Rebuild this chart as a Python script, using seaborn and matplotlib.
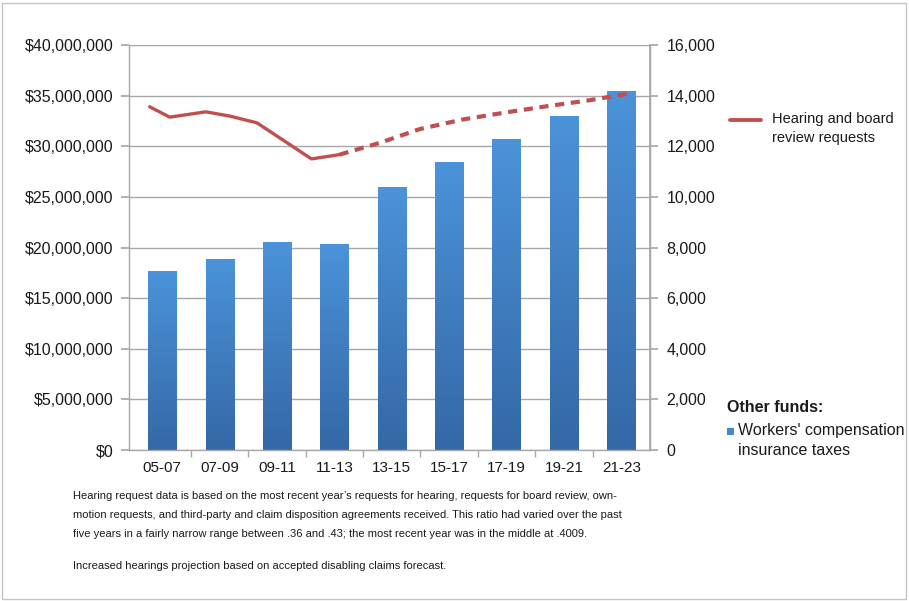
import numpy as np
import pandas as pd
import matplotlib
matplotlib.use("Agg")
import matplotlib.pyplot as plt
import seaborn as sns
from matplotlib.lines import Line2D
from matplotlib.patches import Rectangle
from matplotlib.ticker import FuncFormatter, FixedLocator

# ---------------- data ----------------
biennia = ["05-07", "07-09", "09-11", "11-13", "13-15", "15-17", "17-19", "19-21", "21-23"]
wc_taxes = [17.65e6, 18.87e6, 20.55e6, 20.36e6, 25.95e6, 28.46e6, 30.76e6, 33.03e6, 35.47e6]

# hearing and board review requests (position measured in biennium units, 0 = 05-07)
actual_pos = [-0.22, 0.13, 0.76, 1.18, 1.65, 2.60, 3.09]
actual_req = [13560, 13150, 13360, 13190, 12925, 11500, 11670]
proj_pos = [3.09, 3.79, 4.49, 5.23, 5.97, 6.70, 7.45, 8.14]
proj_req = [11670, 12134, 12680, 13055, 13330, 13580, 13820, 14083]

left_ticks = [0, 5e6, 10e6, 15e6, 20e6, 25e6, 30e6, 35e6, 40e6]
right_ticks = [0, 2000, 4000, 6000, 8000, 10000, 12000, 14000, 16000]

footnote1 = ("Hearing request data is based on the most recent year\u2019s requests for hearing, requests for board review, own-\n"
             "motion requests, and third-party and claim disposition agreements received. This ratio had varied over the past\n"
             "five years in a fairly narrow range between .36 and .43; the most recent year was in the middle at .4009.")
footnote2 = "Increased hearings projection based on accepted disabling claims forecast."

# ---------------- style ----------------
sns.set_theme(style="white")
plt.rcParams['font.family'] = ['Liberation Sans', 'DejaVu Sans']

W, H = 909, 601
fig = plt.figure(figsize=(W / 100, H / 100), dpi=100)
ax = fig.add_axes([129 / W, 1 - 450 / H, (650 - 129) / W, (450 - 45) / H])

BAR_COL = "#4585cc"
LINE_COL = "#c0504d"
GRID_COL = "#a8a8a8"
TEXT_COL = "#1a1a1a"

df = pd.DataFrame({"biennium": biennia, "taxes": wc_taxes})
sns.barplot(data=df, x="biennium", y="taxes", ax=ax, color=BAR_COL, width=0.49,
            saturation=1, edgecolor="none", zorder=2)

# gradient fill of bars
grad = np.linspace(0, 1, 256).reshape(-1, 1)
cmap = matplotlib.colors.LinearSegmentedColormap.from_list("g", ["#3468a6", "#4b93da"])
for p in ax.patches:
    x0, y0 = p.get_x(), p.get_y()
    w, h = p.get_width(), p.get_height()
    im = ax.imshow(grad, extent=[x0, x0 + w, y0, y0 + h], origin="lower", cmap=cmap,
                   aspect="auto", zorder=2.1)
    im.set_clip_path(p)

ax.set_xlim(-0.58, 8.5)
ax.set_ylim(0, 40e6)
ax.set_yticks(left_ticks)
ax.yaxis.set_major_formatter(FuncFormatter(lambda v, _: "${:,.0f}".format(v)))
ax.grid(axis="y", color=GRID_COL, linewidth=1.0)
ax.grid(axis="x", visible=False)
ax.set_axisbelow(True)
ax.set_xlabel("")
ax.set_ylabel("")

for s in ["left", "bottom", "right"]:
    ax.spines[s].set_color(GRID_COL)
    ax.spines[s].set_linewidth(1.0)
ax.spines["top"].set_visible(False)

ax.xaxis.set_minor_locator(FixedLocator(np.arange(0.5, 8.5, 1.0)))
ax.tick_params(axis="x", which="major", length=0, pad=8, labelsize=11, labelcolor=TEXT_COL)
ax.tick_params(axis="x", which="minor", length=5, color=GRID_COL, direction="out", bottom=True)
ax.tick_params(axis="y", which="major", length=6, color=GRID_COL, direction="out", left=True,
               labelsize=11.5, labelcolor=TEXT_COL, pad=5)

ax2 = ax.twinx()
ax2.set_ylim(0, 16000)
ax2.set_yticks(right_ticks)
ax2.yaxis.set_major_formatter(FuncFormatter(lambda v, _: "{:,.0f}".format(v)))
ax2.tick_params(axis="y", length=6, color=GRID_COL, direction="out", right=True,
                labelsize=11.5, labelcolor=TEXT_COL, pad=6)
for s in ax2.spines.values():
    s.set_visible(False)
ax2.spines["right"].set_visible(True)
ax2.spines["right"].set_color(GRID_COL)
ax2.grid(False)

sns.lineplot(x=actual_pos, y=actual_req, ax=ax2, color=LINE_COL, linewidth=2.4, sort=False,
             estimator=None, zorder=3)
proj_line = sns.lineplot(x=proj_pos, y=proj_req, ax=ax2, color=LINE_COL, linewidth=3.0, sort=False,
                         estimator=None, zorder=3)
proj_line.lines[-1].set_dashes([2.2, 1.6])
proj_line.lines[-1].set_dash_capstyle("butt")
ax2.set_xlim(-0.58, 8.5)
ax2.set_ylabel("")

# legends (manual, in figure coordinates)
fig.add_artist(Line2D([730 / W, 761 / W], [1 - 120 / H, 1 - 120 / H], color=LINE_COL, linewidth=2.8))
fig.text(772 / W, 1 - 112 / H, "Hearing and board\nreview requests", fontsize=10.5, color=TEXT_COL,
         va="top", ha="left", linespacing=1.45)

fig.text(727 / W, 1 - 407 / H, "Other funds:", fontsize=11.5, fontweight="bold", color=TEXT_COL,
         va="center", ha="left")
fig.add_artist(Rectangle((727 / W, 1 - 435 / H), 7 / W, 7 / H, transform=fig.transFigure,
                         facecolor=BAR_COL, edgecolor="none"))
fig.text(738 / W, 1 - 423 / H, "Workers' compensation\ninsurance taxes", fontsize=11.5, color=TEXT_COL,
         va="top", ha="left", linespacing=1.45)

fig.text(73 / W, 1 - 491 / H, footnote1, fontsize=8.0, color=TEXT_COL, va="top", ha="left",
         linespacing=2.1)
fig.text(73 / W, 1 - 561 / H, footnote2, fontsize=8.0, color=TEXT_COL, va="top", ha="left")

# outer frame
fig.add_artist(Rectangle((2 / W, 2 / H), (W - 5) / W, (H - 5) / H, transform=fig.transFigure,
                         facecolor="none", edgecolor="#c4c4c4", linewidth=1.0))

fig.savefig("out.png", dpi=100)
